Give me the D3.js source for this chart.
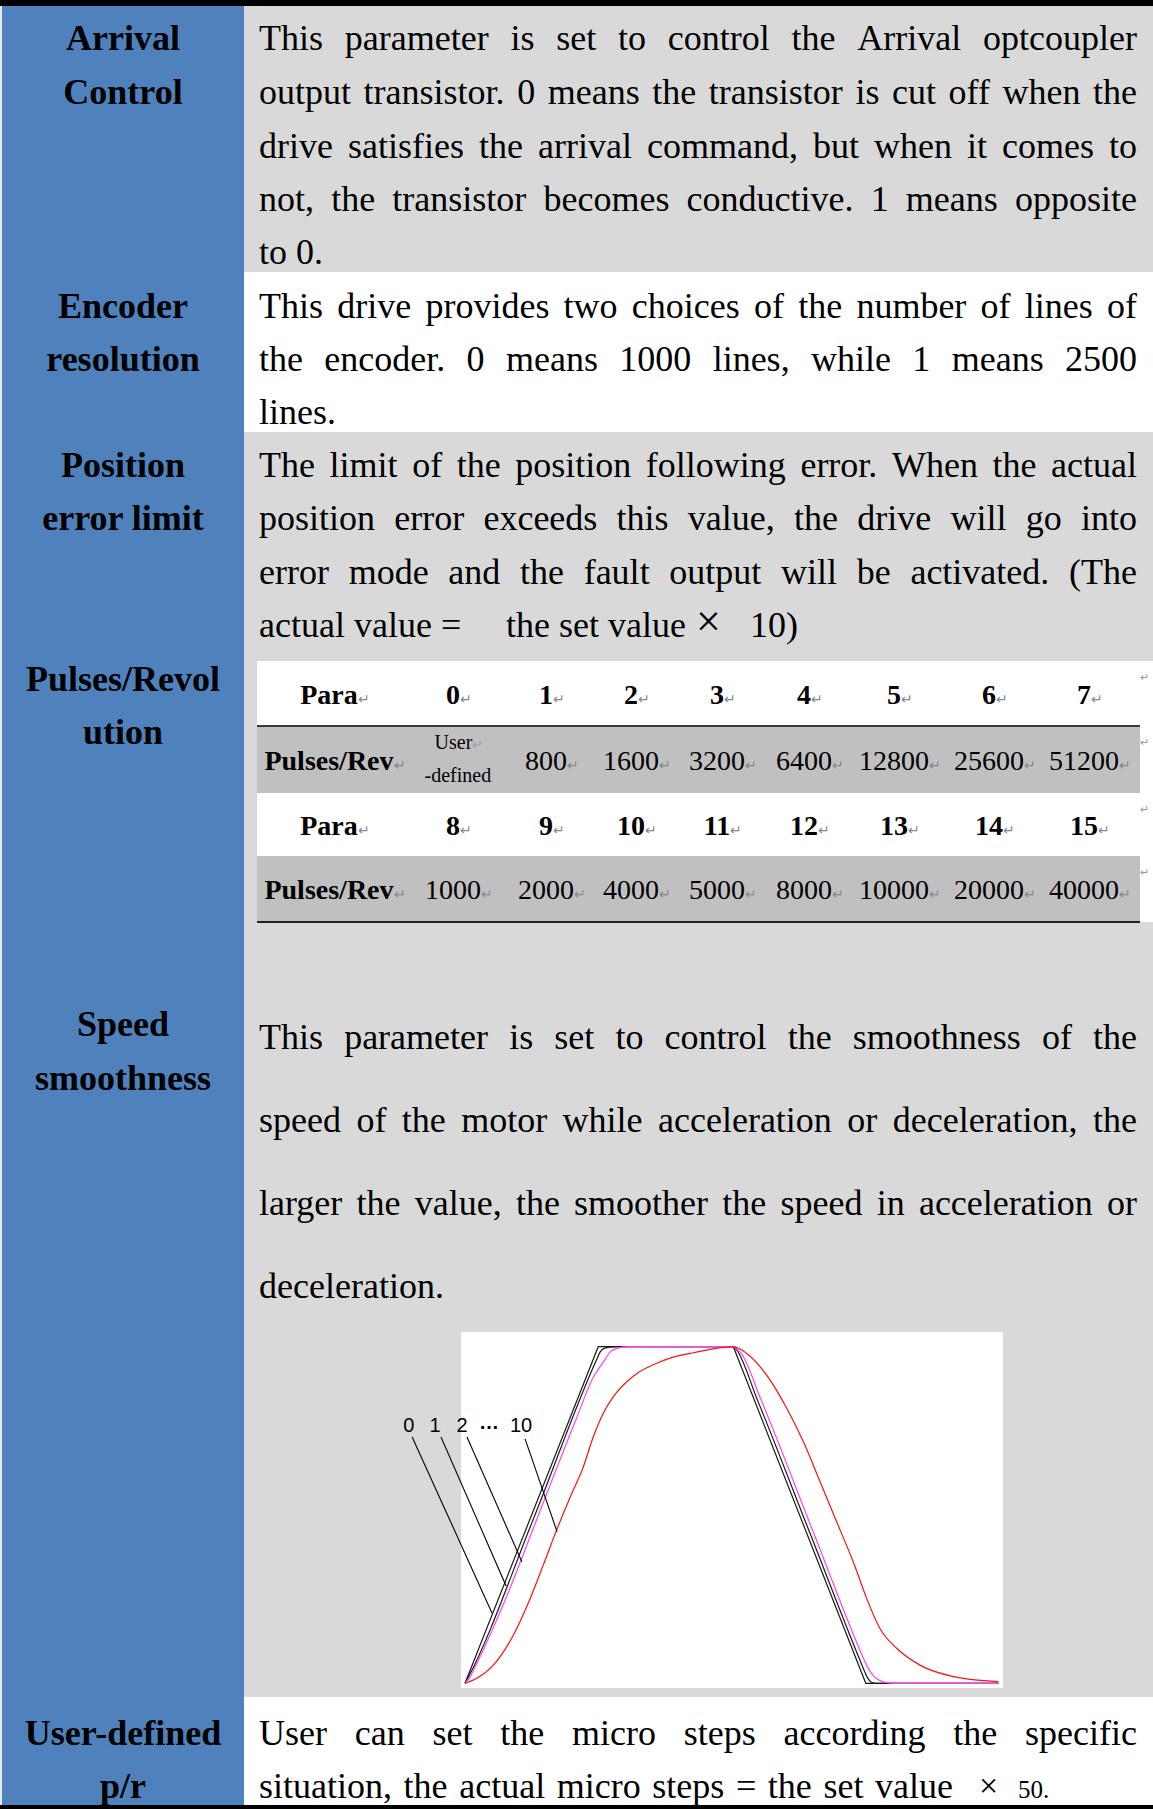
<!DOCTYPE html>
<html>
<head>
<meta charset="utf-8">
<script src="https://cdn.jsdelivr.net/npm/d3@7"></script>
<style>
  html, body { margin: 0; padding: 0; background: #fff; }
  svg { display: block; }
</style>
</head>
<body>
<div id="sheet"></div>
<script>
// ---- table values ----
const paraRowA = ['0', '1', '2', '3', '4', '5', '6', '7'];
const pulsesRowA = ['User-defined', '800', '1600', '3200', '6400', '12800', '25600', '51200'];
const paraRowB = ['8', '9', '10', '11', '12', '13', '14', '15'];
const pulsesRowB = ['1000', '2000', '4000', '5000', '8000', '10000', '20000', '40000'];

// ---- speed curves (time 0..200, speed 0..1) ----
const curveNames = ['0', '1', '2', '10'];
const timeS0 = [0, 49.9, 100.5, 150.1, 200];
const speedS0 = [0, 1, 1, 0, 0];
const timeS1 = [0, 1.1, 25.7, 49.2, 50.6, 52.1, 54.3, 57.3, 100.5, 101.5, 109.5, 129.0, 147.9, 149.5, 150.8, 152.0, 154.3, 200];
const speedS1 = [0, 0.016, 0.49, 0.960, 0.984, 0.995, 0.999, 1, 1, 0.993, 0.842, 0.45, 0.069, 0.038, 0.016, 0.004, 0, 0];
const timeS2 = [0, 1.9, 4.1, 15.0, 28.1, 41.2, 48.5, 50.8, 52.3, 54.3, 56.9, 61.0, 100.5, 101.9, 103.4, 110.9, 130.4, 146.3, 149.0, 151.0, 153.0, 155.4, 158.0, 160.3, 200];
const speedS2 = [0, 0.019, 0.054, 0.247, 0.512, 0.776, 0.916, 0.943, 0.960, 0.984, 0.995, 1, 1, 0.993, 0.981, 0.842, 0.45, 0.129, 0.078, 0.045, 0.022, 0.008, 0.002, 0, 0];
const timeS10 = [0, 4.4, 10.6, 18.1, 23.9, 29.3, 34.3, 40.6, 43.9, 48.1, 51.8, 55.5, 60.6, 65.5, 71.8, 78.0, 84.3, 90.5, 100.5,
  105.5, 110.5, 115.5, 120.5, 126.7, 133.0, 139.2, 145.4, 150.4, 155.4, 161.7, 170.4, 182.9, 199.7];
const speedS10 = [0, 0.015, 0.054, 0.143, 0.242, 0.351, 0.455, 0.575, 0.634, 0.733, 0.802, 0.851, 0.896, 0.926, 0.951, 0.969, 0.980, 0.990, 1.0,
  0.980, 0.941, 0.886, 0.817, 0.718, 0.599, 0.480, 0.361, 0.253, 0.163, 0.104, 0.054, 0.020, 0.005];

// ---- curve call-outs ----
const noteLabels = ['0', '1', '2', '\u2026', '10'];
const noteLabelTime = [-21.0, -11.2, -1.1, 9.0, 21.0];
const noteLabelSpeed = 0.747;
const leaderFromTime = [-19.8, -9.0, 0.75, 22.5];
const leaderFromSpeed = [0.732, 0.732, 0.732, 0.726];
const leaderToTime = [10.1, 15.4, 21.3, 34.5];
const leaderToSpeed = [0.209, 0.289, 0.361, 0.45];

const width = 1153, height = 1809;
const serif = '"Liberation Serif", "Times New Roman", serif';
const sans = '"Liberation Sans", Arial, sans-serif';
const blue = '#4f81bd', grey = '#d9d9d9', darkGrey = '#c0c0c0';
const textLeft = 259, textRight = 1137, labelX = 123;

const svg = d3.select('#sheet').append('svg')
    .attr('width', width)
    .attr('height', height);

// Row backgrounds
svg.append('rect').attr('x', 0).attr('y', 0).attr('width', width).attr('height', height).attr('fill', '#e8e8e8');
svg.append('rect').attr('x', 244).attr('y', 6).attr('width', width - 244).attr('height', 266).attr('fill', grey);
svg.append('rect').attr('x', 244).attr('y', 272).attr('width', width - 244).attr('height', 160).attr('fill', '#fff');
svg.append('rect').attr('x', 244).attr('y', 432).attr('width', width - 244).attr('height', 1265).attr('fill', grey);
svg.append('rect').attr('x', 244).attr('y', 1697).attr('width', width - 244).attr('height', 108).attr('fill', '#fff');
svg.append('rect').attr('x', 2).attr('y', 6).attr('width', 242).attr('height', 1799).attr('fill', blue);
svg.append('rect').attr('x', 0).attr('y', 0).attr('width', width).attr('height', 6).attr('fill', '#000');
svg.append('rect').attr('x', 0).attr('y', 1805).attr('width', width).attr('height', 4).attr('fill', '#000');

// Left column labels
const labels = [
    ['Arrival', 50], ['Control', 104],
    ['Encoder', 318], ['resolution', 371],
    ['Position', 477], ['error limit', 530],
    ['Pulses/Revol', 691], ['ution', 744],
    ['Speed', 1036], ['smoothness', 1090],
    ['User-defined', 1745], ['p/r', 1798]
];
svg.append('g').selectAll('text')
    .data(labels)
    .join('text')
    .attr('x', labelX)
    .attr('y', d => d[1])
    .attr('text-anchor', 'middle')
    .style('font-family', serif)
    .style('font-size', '36px')
    .style('font-weight', 'bold')
    .text(d => d[0]);

// Justified paragraph lines (right edge can be overridden)
function writeLine(str, y, justify, right = textRight, size = 36) {
    const words = str.split(' ');
    const t = svg.append('text')
        .attr('y', y)
        .style('font-family', serif)
        .style('font-size', size + 'px');
    const spans = words.map(w => t.append('tspan').text(w));
    const widths = spans.map(s => s.node().getComputedTextLength());
    const gap = justify && words.length > 1
        ? (right - textLeft - d3.sum(widths)) / (words.length - 1)
        : size * 0.25;
    let x = textLeft;
    spans.forEach((s, i) => { s.attr('x', x); x += widths[i] + gap; });
}

function writeParagraph(lines, baselines, lastJustified = false) {
    lines.forEach((line, i) => writeLine(line, baselines[i], i < lines.length - 1 || lastJustified));
}

writeParagraph([
    'This parameter is set to control the Arrival optcoupler',
    'output transistor. 0 means the transistor is cut off when the',
    'drive satisfies the arrival command, but when it comes to',
    'not, the transistor becomes conductive. 1 means opposite',
    'to 0.'
], [50, 104, 158, 211, 264]);

writeParagraph([
    'This drive provides two choices of the number of lines of',
    'the encoder. 0 means 1000 lines, while 1 means 2500',
    'lines.'
], [318, 371, 424]);

writeParagraph([
    'The limit of the position following error. When the actual',
    'position error exceeds this value, the drive will go into',
    'error mode and the fault output will be activated. (The'
], [477, 530, 584], true);

// last line of position row, with its odd spacing
[['actual value =', 259, 637, 36], ['the set value', 506, 637, 36],
 ['\u00d7', 696, 636, 44], ['10)', 750, 637, 36]].forEach(([s, x, y, sz]) => {
    svg.append('text').attr('x', x).attr('y', y)
        .style('font-family', serif).style('font-size', sz + 'px').text(s);
});

writeParagraph([
    'This parameter is set to control the smoothness of the',
    'speed of the motor while acceleration or deceleration, the',
    'larger the value, the smoother the speed in acceleration or',
    'deceleration.'
], [1049, 1132, 1215, 1298]);

writeParagraph(['User can set the micro steps according the specific'], [1745], true);
writeLine('situation, the actual micro steps = the set value', 1798, true, 953);
svg.append('text').attr('x', 979).attr('y', 1797)
    .style('font-family', serif).style('font-size', '34px').text('\u00d7');
svg.append('text').attr('x', 1018).attr('y', 1798)
    .style('font-family', serif).style('font-size', '25px').text('50.');

// ---- inner pulses table ----
const colX = [335, 459, 552, 637, 723, 810, 900, 995, 1090];
const tableRows = [
    { head: 'Para', cells: paraRowA, top: 661, h: 65, fill: '#fff', bold: true },
    { head: 'Pulses/Rev', cells: pulsesRowA, top: 726, h: 67, fill: darkGrey, bold: false },
    { head: 'Para', cells: paraRowB, top: 793, h: 63, fill: '#fff', bold: true },
    { head: 'Pulses/Rev', cells: pulsesRowB, top: 856, h: 66, fill: darkGrey, bold: false }
];
const table = svg.append('g');
table.append('rect').attr('x', 257).attr('y', 661).attr('width', width - 257).attr('height', 261).attr('fill', '#fff');
tableRows.forEach(row => {
    table.append('rect').attr('x', 257).attr('y', row.top).attr('width', 883).attr('height', row.h).attr('fill', row.fill);
    const base = row.top + row.h / 2 + 10;
    const cellTexts = [row.head].concat(row.cells);
    cellTexts.forEach((c, i) => {
        if (c === 'User-defined') {
            const t = table.append('text').attr('text-anchor', 'middle')
                .style('font-family', serif).style('font-size', '20px');
            t.append('tspan').attr('x', colX[i]).attr('y', row.top + 23).text('User')
                .append('tspan').style('fill', '#999').style('font-size', '13px').text('\u21b5');
            t.append('tspan').attr('x', colX[i]).attr('y', row.top + 56).text('-defined')
                .append('tspan').style('fill', '#aaa').style('font-size', '9px').text(',');
            return;
        }
        const t = table.append('text')
            .attr('x', colX[i]).attr('y', base)
            .attr('text-anchor', 'middle')
            .style('font-family', serif)
            .style('font-size', '28px')
            .style('font-weight', (row.bold || i === 0) ? 'bold' : 'normal')
            .text(c);
        t.append('tspan').style('fill', '#888').style('font-size', '14px').style('font-weight', 'normal').text('\u21b5');
    });
    // end-of-row mark, kept inside the page edge
    table.append('text').attr('x', 1149).attr('y', row.top + 20)
        .attr('text-anchor', 'end')
        .style('font-family', serif).style('font-size', '11px').style('fill', '#999').text('\u21b5');
});
table.append('rect').attr('x', 257).attr('y', 725).attr('width', 883).attr('height', 2).attr('fill', '#3a3a3a');
table.append('rect').attr('x', 257).attr('y', 921).attr('width', 883).attr('height', 2).attr('fill', '#222');

// ---- speed smoothness chart ----
const chart = svg.append('g');
chart.append('rect').attr('x', 461).attr('y', 1332).attr('width', 542).attr('height', 356).attr('fill', '#fff');

const xScale = d3.scaleLinear().domain([0, 200]).range([465, 999]);
const yScale = d3.scaleLinear().domain([0, 1]).range([1683.3, 1346.7]);

const series = [
    { name: curveNames[0], t: timeS0, v: speedS0, color: '#1a1a1a', curve: d3.curveLinear },
    { name: curveNames[1], t: timeS1, v: speedS1, color: '#1a1a1a', curve: d3.curveMonotoneX },
    { name: curveNames[2], t: timeS2, v: speedS2, color: '#ff40ff', curve: d3.curveMonotoneX },
    { name: curveNames[3], t: timeS10, v: speedS10, color: '#ff1010', curve: d3.curveMonotoneX }
];
series.forEach(s => {
    const line = d3.line()
        .x(i => xScale(s.t[i]))
        .y(i => yScale(s.v[i]))
        .curve(s.curve);
    chart.append('path')
        .attr('d', line(d3.range(s.t.length)))
        .attr('fill', 'none')
        .attr('stroke', s.color)
        .attr('stroke-width', 1.2);
});

// call-out leaders and labels
chart.selectAll('line.leader')
    .data(d3.range(leaderFromTime.length))
    .join('line')
    .attr('class', 'leader')
    .attr('x1', i => xScale(leaderFromTime[i]))
    .attr('y1', i => yScale(leaderFromSpeed[i]))
    .attr('x2', i => xScale(leaderToTime[i]))
    .attr('y2', i => yScale(leaderToSpeed[i]))
    .attr('stroke', '#000')
    .attr('stroke-width', 1.1);

chart.selectAll('text.note')
    .data(noteLabels)
    .join('text')
    .attr('class', 'note')
    .attr('x', (d, i) => xScale(noteLabelTime[i]))
    .attr('y', d => yScale(noteLabelSpeed) - (d === '\u2026' ? 3 : 0))
    .attr('text-anchor', 'middle')
    .style('font-family', sans)
    .style('font-size', '20px')
    .style('font-weight', d => d === '\u2026' ? 'bold' : 'normal')
    .text(d => d);
</script>
</body>
</html>
